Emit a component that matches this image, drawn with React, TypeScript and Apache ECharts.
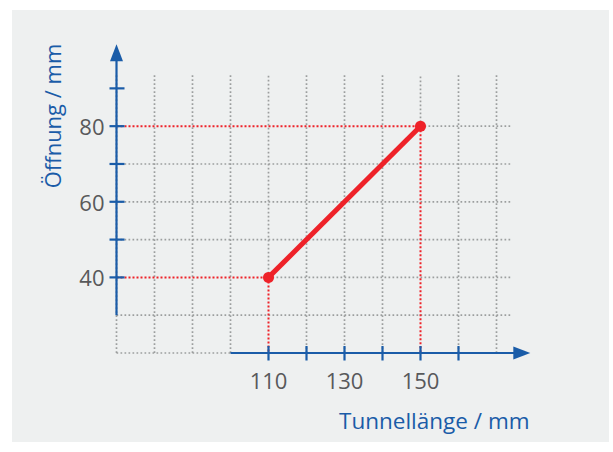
import React, { useEffect, useRef } from "react";
import * as echarts from "echarts";

// Data
const tunnelLength = [110, 150];
const opening = [40, 80];
const xTicks = [110, 120, 130, 140, 150, 160];
const xTickLabels = [110, 130, 150];
const yTicks = [40, 50, 60, 70, 80, 90];
const yTickLabels = [40, 60, 80];
const gridXs = [70, 80, 90, 100, 110, 120, 130, 140, 150, 160, 170];
const gridYs = [20, 30, 40, 50, 60, 70, 80];

// Extents (in data units)
const xMin = 70;
const xMax = 180;
const yMin = 20;
const yMax = 102;
const gridTopVal = 93.5;
const gridRightVal = 174.2;
const xAxisStart = 100;
const xAxisEnd = 178.9;
const yAxisStart = 30;
const yAxisEnd = 101.7;

const BLUE = "#1a5ca8";
const RED = "#ee2229";
const GREY = "#9c9e9e";
const LABEL = "#58595b";
const FONT = "'Open Sans', 'Noto Sans', sans-serif";

function buildGreySegments() {
  const segs: number[][] = [];
  gridXs.forEach((x) => {
    const idx = tunnelLength.indexOf(x);
    const y0 = idx >= 0 ? opening[idx] : yMin;
    segs.push([x, y0, x, gridTopVal]);
  });
  gridYs.forEach((y) => {
    const idx = opening.indexOf(y);
    const x0 = idx >= 0 ? tunnelLength[idx] : xMin;
    const x1 = y === yMin ? xAxisStart : gridRightVal;
    segs.push([x0, y, x1, y]);
  });
  return segs;
}

function buildRedSegments() {
  const segs: number[][] = [];
  tunnelLength.forEach((x, i) => {
    segs.push([xMin, opening[i], x, opening[i]]);
    segs.push([x, opening[i], x, yMin]);
  });
  return segs;
}

function segRenderer(stroke: string, lineWidth: number, dash: number[] | null) {
  return (params: any, api: any) => {
    const p1 = api.coord([api.value(0), api.value(1)]);
    const p2 = api.coord([api.value(2), api.value(3)]);
    return {
      type: "line",
      shape: { x1: p1[0], y1: p1[1], x2: p2[0], y2: p2[1] },
      style: { stroke, lineWidth, lineDash: dash || undefined, fill: null },
    };
  };
}

export default function App() {
  const ref = useRef<HTMLDivElement>(null);

  useEffect(() => {
    if (!ref.current) return;
    const chart = echarts.init(ref.current, null, { renderer: "svg" });

    const axisSegs = [
      [xAxisStart, yMin, xAxisEnd, yMin],
      [xMin, yAxisStart, xMin, yAxisEnd],
    ];

    const option: any = {
      animation: false,
      backgroundColor: "#ffffff",
      graphic: [
        {
          type: "rect",
          z: -10,
          shape: { x: 12, y: 10, width: 597, height: 432 },
          style: { fill: "#eef0f0" },
        },
        {
          type: "text",
          x: 339,
          y: 420,
          style: {
            text: "Tunnellänge / mm",
            fill: BLUE,
            font: `22.5px ${FONT}`,
            textAlign: "left",
            textVerticalAlign: "middle",
          },
        },
        {
          type: "text",
          x: 52,
          y: 116,
          rotation: Math.PI / 2,
          style: {
            text: "Öffnung / mm",
            fill: BLUE,
            font: `22px ${FONT}`,
            textAlign: "center",
            textVerticalAlign: "middle",
          },
        },
      ],
      grid: { left: 116.5, top: 43, width: 418, height: 310, containLabel: false },
      xAxis: {
        type: "value",
        min: xMin,
        max: xMax,
        interval: 10,
        axisLine: { show: false },
        axisTick: { show: false },
        splitLine: { show: false },
        axisLabel: {
          margin: 16,
          color: LABEL,
          fontSize: 22,
          fontFamily: FONT,
          formatter: (v: number) => (xTickLabels.includes(v) ? String(v) : ""),
        },
      },
      yAxis: {
        type: "value",
        min: yMin,
        max: yMax,
        interval: 10,
        axisLine: { show: false },
        axisTick: { show: false },
        splitLine: { show: false },
        axisLabel: {
          margin: 12,
          color: LABEL,
          fontSize: 22,
          fontFamily: FONT,
          formatter: (v: number) => (yTickLabels.includes(v) ? String(v) : ""),
        },
      },
      series: [
        {
          type: "custom",
          name: "grid",
          silent: true,
          z: 1,
          data: buildGreySegments(),
          renderItem: segRenderer(GREY, 1.7, [1.7, 2.3]),
        },
        {
          type: "custom",
          name: "guides",
          silent: true,
          z: 2,
          data: buildRedSegments(),
          renderItem: segRenderer(RED, 2, [2, 2]),
        },
        {
          type: "custom",
          name: "axes",
          silent: true,
          z: 3,
          data: axisSegs,
          renderItem: (params: any, api: any) => {
            const p1 = api.coord([api.value(0), api.value(1)]);
            const p2 = api.coord([api.value(2), api.value(3)]);
            const dx = p2[0] - p1[0];
            const dy = p2[1] - p1[1];
            const len = Math.sqrt(dx * dx + dy * dy);
            const ux = dx / len;
            const uy = dy / len;
            const aL = 17;
            const aW = 6.5;
            const bx = p2[0] - ux * aL;
            const by = p2[1] - uy * aL;
            return {
              type: "group",
              children: [
                {
                  type: "line",
                  shape: { x1: p1[0], y1: p1[1], x2: bx + ux * 1, y2: by + uy * 1 },
                  style: { stroke: BLUE, lineWidth: 2.2 },
                },
                {
                  type: "polygon",
                  shape: {
                    points: [
                      [p2[0], p2[1]],
                      [bx - uy * aW, by + ux * aW],
                      [bx + uy * aW, by - ux * aW],
                    ],
                  },
                  style: { fill: BLUE },
                },
              ],
            };
          },
        },
        {
          type: "custom",
          name: "xticks",
          silent: true,
          z: 3,
          data: xTicks.map((x) => [x, yMin]),
          renderItem: (params: any, api: any) => {
            const p = api.coord([api.value(0), api.value(1)]);
            return {
              type: "line",
              shape: { x1: p[0], y1: p[1] - 7, x2: p[0], y2: p[1] + 7.5 },
              style: { stroke: BLUE, lineWidth: 2.2 },
            };
          },
        },
        {
          type: "custom",
          name: "yticks",
          silent: true,
          z: 3,
          data: yTicks.map((y) => [xMin, y]),
          renderItem: (params: any, api: any) => {
            const p = api.coord([api.value(0), api.value(1)]);
            return {
              type: "line",
              shape: { x1: p[0] - 7, y1: p[1], x2: p[0] + 8, y2: p[1] },
              style: { stroke: BLUE, lineWidth: 2.2 },
            };
          },
        },
        {
          type: "line",
          name: "Öffnung",
          z: 10,
          data: tunnelLength.map((x, i) => [x, opening[i]]),
          symbol: "circle",
          symbolSize: 11,
          lineStyle: { color: RED, width: 5 },
          itemStyle: { color: RED },
        },
      ],
    };

    chart.setOption(option);
    return () => chart.dispose();
  }, []);

  return (
    <div
      ref={ref}
      style={{ position: "fixed", left: 0, top: 0, width: 613, height: 452 }}
    />
  );
}
